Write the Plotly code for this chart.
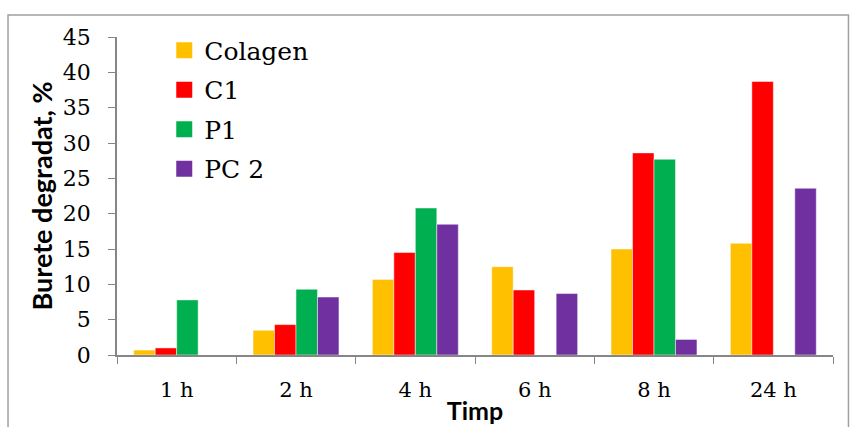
import plotly.graph_objects as go

categories = ["1 h", "2 h", "4 h", "6 h", "8 h", "24 h"]
colagen = [0.7, 3.5, 10.7, 12.5, 15.0, 15.8]
c1 = [1.0, 4.3, 14.5, 9.2, 28.6, 38.7]
p1 = [7.8, 9.3, 20.8, 0, 27.7, 0]
pc2 = [0, 8.2, 18.5, 8.7, 2.2, 23.6]
series_names = ["Colagen", "C1", "P1", "PC 2"]
colors = ["#FFC000", "#FF0000", "#00B050", "#7030A0"]

fig = go.Figure()
for name, vals, col in zip(series_names, [colagen, c1, p1, pc2], colors):
    fig.add_trace(go.Bar(x=categories, y=vals, name=name, showlegend=False,
                         marker=dict(color=col, line=dict(color="rgba(255,255,255,0.6)", width=0.8))))
# legend entries with larger square swatches
for name, col in zip(series_names, colors):
    fig.add_trace(go.Scatter(x=[None], y=[None], mode="markers", name=name,
                             legendgroup=name,
                             marker=dict(symbol="square", size=17, color=col)))

serif = "DejaVu Serif"
fig.update_layout(
    width=850, height=427,
    margin=dict(l=117, r=17, t=37, b=72, autoexpand=False),
    paper_bgcolor="white", plot_bgcolor="white",
    barmode="group", bargap=0.28, bargroupgap=0,
    showlegend=True,
    legend=dict(x=0.066, y=1.03, xanchor="left", yanchor="top",
                font=dict(family=serif, size=25, color="black"),
                bgcolor="rgba(0,0,0,0)", tracegroupgap=4, itemwidth=30),
    xaxis=dict(showline=True, linecolor="#868686", linewidth=1.5, automargin=False,
               ticks="outside", tickson="boundaries", ticklen=7, tickcolor="#868686",
               ticklabelstandoff=15,
               tickfont=dict(family=serif, size=21, color="black"),
               title=dict(text="<b>Timp</b>", font=dict(family="Lato", size=25, color="black"), standoff=2)),
    yaxis=dict(range=[0, 45], dtick=5, showline=True, linecolor="#868686", linewidth=1.5, automargin=False,
               ticks="outside", ticklen=7, tickcolor="#868686", showgrid=False, zeroline=False,
               ticklabelstandoff=13,
               tickfont=dict(family=serif, size=22, color="black"),
               title=dict(text="<b>Burete degradat, %</b>", font=dict(family="Lato", size=27, color="black"), standoff=2)),
    shapes=[dict(type="rect", xref="paper", yref="paper", x0=-0.1522, x1=1.0216, y0=-0.4, y1=1.0692,
                 line=dict(color="#A0A0A0", width=1.5), layer="below")],
)
fig.write_html("out.html")
